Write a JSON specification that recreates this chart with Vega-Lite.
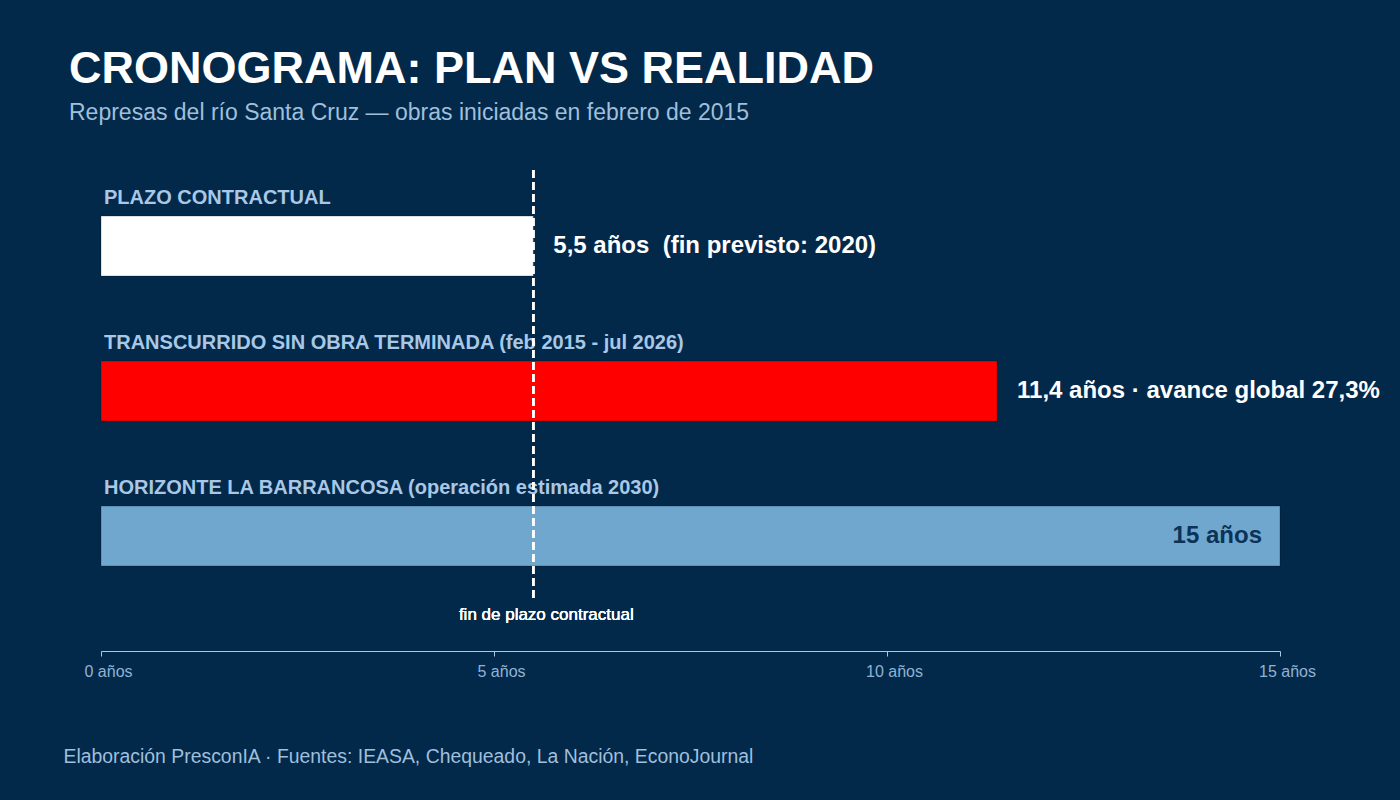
{
  "$schema": "https://vega.github.io/schema/vega-lite/v6.json",
  "autosize": "none",
  "width": 1179,
  "height": 428,
  "padding": {"left": 101, "top": 170, "right": 120, "bottom": 202},
  "background": "#03294a",
  "config": {
    "view": {"stroke": null},
    "font": "Liberation Sans"
  },
  "title": {
    "text": "CRONOGRAMA: PLAN VS REALIDAD",
    "subtitle": "Represas del río Santa Cruz — obras iniciadas en febrero de 2015",
    "anchor": "start",
    "frame": "group",
    "dx": -32,
    "offset": 44,
    "font": "Liberation Sans",
    "fontSize": 45,
    "fontWeight": "bold",
    "color": "#ffffff",
    "subtitleFont": "Liberation Sans",
    "subtitleFontSize": 23,
    "subtitleColor": "#9fbfdc",
    "subtitlePadding": 10
  },
  "data": {
    "values": [
      {"tramo": "PLAZO CONTRACTUAL", "rotulo": "PLAZO CONTRACTUAL", "anios": 5.5, "texto": "5,5 años\u00a0 (fin previsto: 2020)"},
      {"tramo": "TRANSCURRIDO", "rotulo": "TRANSCURRIDO SIN OBRA TERMINADA (feb 2015 - jul 2026)", "anios": 11.4, "texto": "11,4 años · avance global 27,3%"},
      {"tramo": "HORIZONTE", "rotulo": "HORIZONTE LA BARRANCOSA (operación estimada 2030)", "anios": 15, "texto": "15 años"}
    ]
  },
  "encoding": {
    "y": {
      "field": "tramo",
      "type": "nominal",
      "sort": null,
      "axis": null,
      "scale": {"paddingInner": 0.5862, "paddingOuter": 0.269, "align": 0.59, "round": false}
    }
  },
  "layer": [
    {
      "mark": {"type": "bar", "stroke": "#000000", "strokeOpacity": 0.25, "strokeWidth": 1},
      "encoding": {
        "x": {
          "field": "anios",
          "type": "quantitative",
          "scale": {"domain": [0, 15], "nice": false, "zero": true},
          "axis": {
            "values": [0, 5, 10, 15],
            "labelExpr": "datum.value + ' años'",
            "grid": false,
            "offset": 53,
            "domainColor": "#a8c8e8",
            "domainWidth": 1,
            "tickColor": "#a8c8e8",
            "tickSize": 5,
            "labelColor": "#8fb3d6",
            "labelFontSize": 16,
            "labelPadding": 7,
            "labelOffset": 7,
            "labelFlush": false,
            "title": "Elaboración PresconIA · Fuentes: IEASA, Chequeado, La Nación, EconoJournal",
            "titleAnchor": "start",
            "titleAlign": "left",
            "titleBaseline": "alphabetic",
            "titleX": -38,
            "titleY": 111,
            "titleFontSize": 19.4,
            "titleFontWeight": "normal",
            "titleColor": "#9fbfdc"
          }
        },
        "color": {
          "field": "tramo",
          "type": "nominal",
          "legend": null,
          "scale": {
            "domain": ["PLAZO CONTRACTUAL", "TRANSCURRIDO", "HORIZONTE"],
            "range": ["#ffffff", "#ff0000", "#70a7cf"]
          }
        }
      }
    },
    {
      "mark": {"type": "text", "align": "left", "baseline": "alphabetic", "dx": 3, "dy": -12, "fontSize": 20, "fontWeight": "bold", "color": "#a9c8e6"},
      "encoding": {
        "x": {"datum": 0, "type": "quantitative"},
        "y": {"field": "tramo", "type": "nominal", "sort": null, "bandPosition": 0},
        "text": {"field": "rotulo"}
      }
    },
    {
      "transform": [{"filter": "datum.anios < 15"}],
      "mark": {"type": "text", "align": "left", "baseline": "middle", "dx": 20, "fontSize": 24, "fontWeight": "bold", "color": "#ffffff"},
      "encoding": {
        "x": {"field": "anios", "type": "quantitative"},
        "text": {"field": "texto"}
      }
    },
    {
      "transform": [{"filter": "datum.anios >= 15"}],
      "mark": {"type": "text", "align": "right", "baseline": "middle", "dx": -18, "fontSize": 24, "fontWeight": "bold", "color": "#0b3357"},
      "encoding": {
        "x": {"field": "anios", "type": "quantitative"},
        "text": {"field": "texto"}
      }
    },
    {
      "mark": {"type": "rule", "color": "#ffffff", "strokeWidth": 2.5, "strokeDash": [8, 4]},
      "encoding": {
        "x": {"datum": 5.5, "type": "quantitative"},
        "y": null
      }
    },
    {
      "mark": {"type": "text", "align": "center", "baseline": "middle", "dx": 13, "dy": 49, "fontSize": 17, "fontWeight": "normal", "color": "#ffffff", "text": "fin de plazo contractual"},
      "encoding": {
        "x": {"datum": 5.5, "type": "quantitative"},
        "y": {"datum": "HORIZONTE", "type": "nominal", "bandPosition": 1}
      }
    }
  ]
}
